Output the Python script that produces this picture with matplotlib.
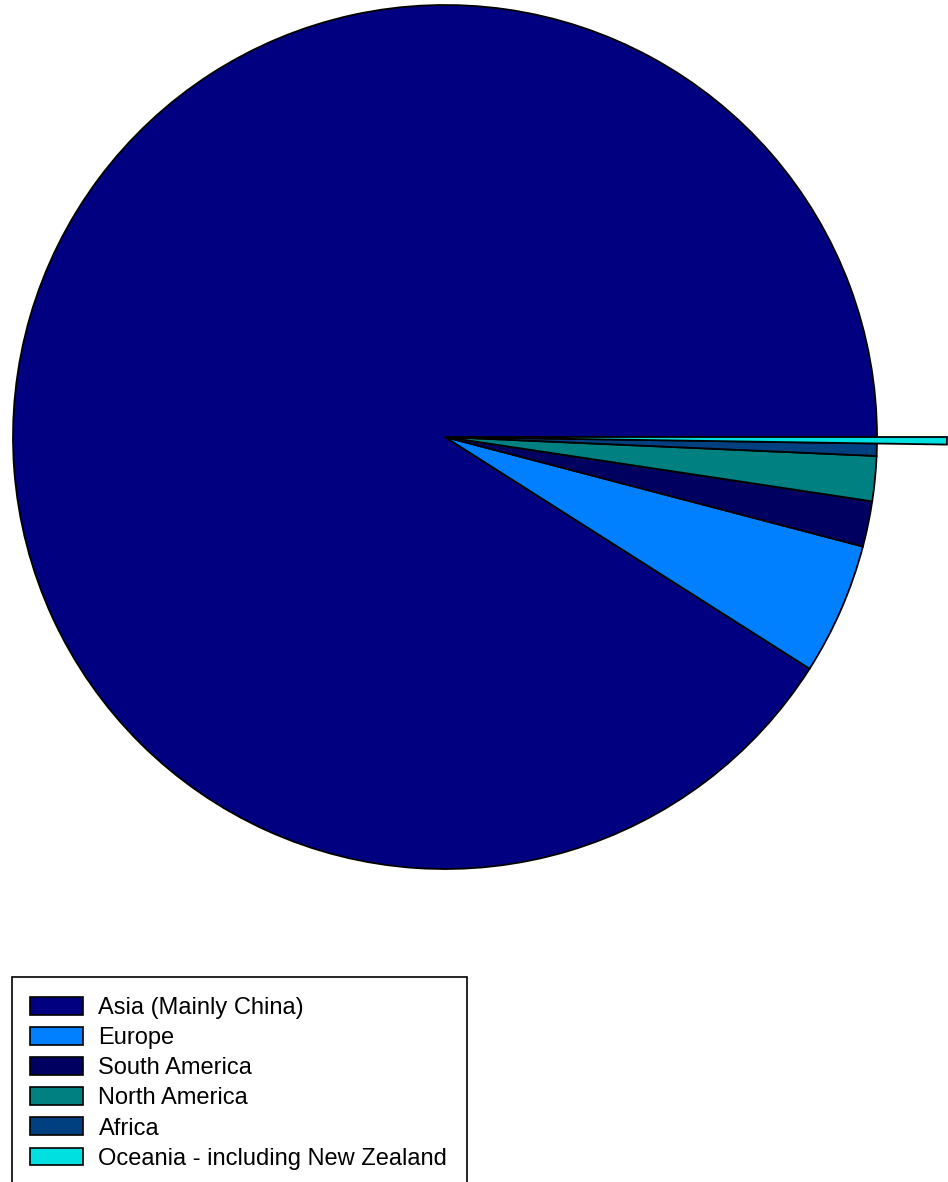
import matplotlib
matplotlib.use("Agg")
import matplotlib.pyplot as plt
from matplotlib.patches import Rectangle, Patch

# shares (percent)
regions = ["Asia (Mainly China)", "Europe", "South America",
           "North America", "Africa", "Oceania - including New Zealand"]
shares = [90.99, 4.93, 1.70, 1.68, 0.46, 0.24]
colors = ["#000080", "#0080FF", "#000060", "#008080", "#004080", "#00E0E0"]

plt.rcParams['font.family'] = ['Liberation Sans', 'DejaVu Sans']

W, H = 948, 1182
fig = plt.figure(figsize=(W / 100, H / 100), dpi=100)

# pie centre (445, 437) px, radius 432 px
cx, cy, r = 445, 437, 432
ax = fig.add_axes([(cx - r) / W, (H - cy - r) / H, 2 * r / W, 2 * r / H])

wedges, _ = ax.pie(shares, colors=colors, startangle=0, counterclock=True,
                   radius=1,
                   wedgeprops=dict(edgecolor="black", linewidth=1.3))
ax.set_xlim(-1, 1)
ax.set_ylim(-1, 1)
ax.set_aspect("equal")
ax.axis("off")

# Oceania sticks out past the rim
wedges[-1].set_radius(1.162)
wedges[-1].set_clip_on(False)
wedges[-1].set_zorder(3)

# legend frame runs off the bottom of the picture
fig.patches.append(Rectangle((12 / W, (H - 1230) / H), (467 - 12) / W, (1230 - 977) / H,
                             transform=fig.transFigure, facecolor="white",
                             edgecolor="black", linewidth=1.2))

handles = [Patch(facecolor=c, edgecolor="black", linewidth=1.2) for c in colors]
fig.legend(handles, regions, loc="upper left",
           bbox_to_anchor=(30 / W, (H - 997) / H), bbox_transform=fig.transFigure,
           frameon=False, fontsize=17, handlelength=2.26, handleheight=0.78,
           handletextpad=0.64, labelspacing=0.34, borderpad=0, borderaxespad=0)

fig.savefig("out.png", dpi=100)
